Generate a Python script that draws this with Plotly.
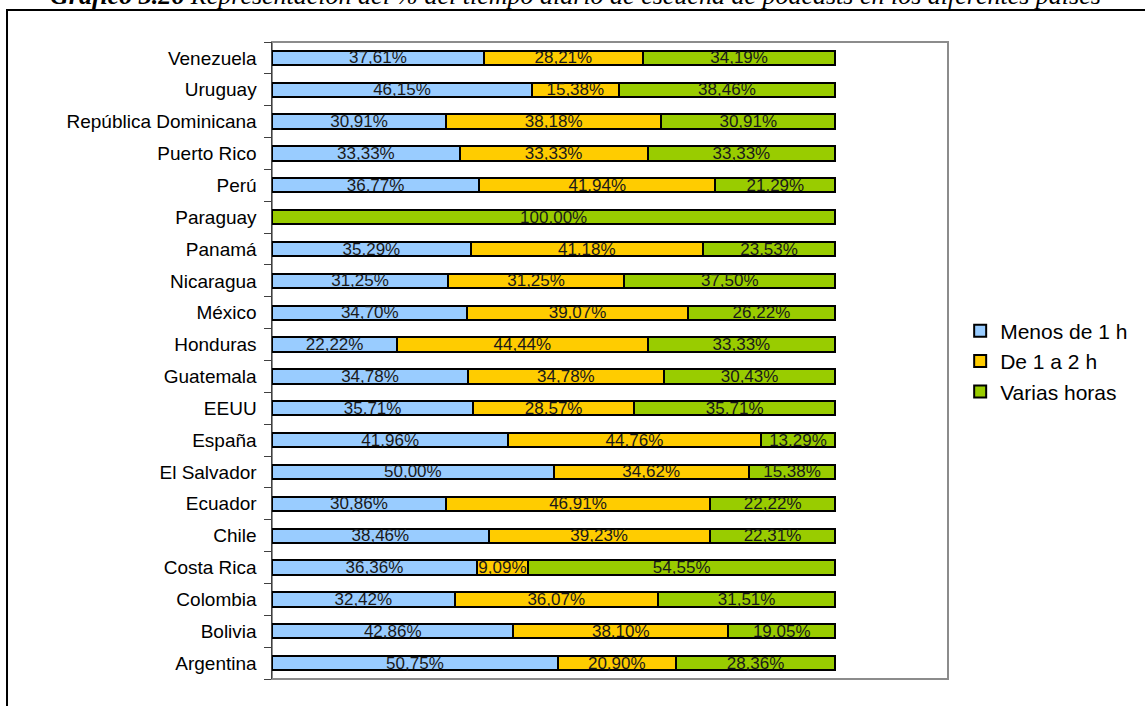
import plotly.graph_objects as go

# countries bottom -> top (as plotly draws categories)
paises = ["Argentina", "Bolivia", "Colombia", "Costa Rica", "Chile", "Ecuador",
          "El Salvador", "España", "EEUU", "Guatemala", "Honduras", "México",
          "Nicaragua", "Panamá", "Paraguay", "Perú", "Puerto Rico",
          "República Dominicana", "Uruguay", "Venezuela"]

menos_1h = [50.75, 42.86, 32.42, 36.36, 38.46, 30.86, 50.00, 41.96, 35.71, 34.78,
            22.22, 34.70, 31.25, 35.29, None, 36.77, 33.33, 30.91, 46.15, 37.61]
de_1_a_2h = [20.90, 38.10, 36.07, 9.09, 39.23, 46.91, 34.62, 44.76, 28.57, 34.78,
             44.44, 39.07, 31.25, 41.18, None, 41.94, 33.33, 38.18, 15.38, 28.21]
varias_horas = [28.36, 19.05, 31.51, 54.55, 22.31, 22.22, 15.38, 13.29, 35.71, 30.43,
                33.33, 26.22, 37.50, 23.53, 100.00, 21.29, 33.33, 30.91, 38.46, 34.19]

series = [("Menos de 1 h", menos_1h, "#99CCFF"),
          ("De 1 a 2 h", de_1_a_2h, "#FFCC00"),
          ("Varias horas", varias_horas, "#99CC00")]

titulo = ("<b><i>Gráfico 3.26</i></b> <i>Representación del % del tiempo diario de escucha "
          "de podcasts en los diferentes países</i>")


def etiqueta(v):
    if v is None:
        return None
    return f"{v:.2f}".replace(".", ",") + "%"


fig = go.Figure()
for nombre, valores, color in series:
    fig.add_trace(go.Bar(
        y=paises, x=valores, name=nombre, orientation="h",
        legendgroup=nombre,
        marker=dict(color=color, line=dict(color="black", width=2)),
        text=[etiqueta(v) for v in valores],
        textposition="inside", insidetextanchor="middle",
        constraintext="none", textangle=0,
        textfont=dict(family="Arial, Liberation Sans", size=17, color="#1a1a1a"),
        width=0.45,
    ))

fig.update_layout(
    width=1145, height=706,
    barmode="stack",
    margin=dict(l=272, r=197, t=42, b=27),
    paper_bgcolor="white", plot_bgcolor="white",
    font=dict(family="Arial, Liberation Sans", color="black"),
    showlegend=True,
    legend=dict(x=1.018, y=0.499, xanchor="left", yanchor="middle",
                font=dict(size=21), traceorder="normal", tracegroupgap=8,
                bgcolor="rgba(0,0,0,0)"),
)

fig.update_xaxes(range=[0, 120], showticklabels=False, showgrid=False,
                 zeroline=False, ticks="", fixedrange=True)
fig.update_yaxes(categoryorder="array", categoryarray=paises,
                 showline=True, linecolor="#404040", linewidth=1,
                 ticks="outside", ticklen=7, tickcolor="#404040",
                 tickson="boundaries", showgrid=False,
                 tickfont=dict(size=19, color="black"), ticksuffix="  ")

# plot-area border (grey) and outer frame (black)
fig.add_shape(type="rect", xref="paper", yref="paper", x0=0, x1=1, y0=0, y1=1,
              line=dict(color="#8c8c8c", width=2), layer="below")
fig.add_shape(type="rect", xref="paper", yref="paper",
              x0=-0.392, x1=1.6, y0=-0.3, y1=1.0502,
              line=dict(color="black", width=2))

# cut-off caption above the frame
fig.add_annotation(text=titulo, xref="paper", yref="paper",
                   x=-0.331, y=1.0471, xanchor="left", yanchor="bottom",
                   showarrow=False,
                   font=dict(family="Liberation Serif, Times New Roman", size=26,
                             color="black"))

# the page's default body margin would shift everything by 8px
fig.write_html("out.html", config={"displayModeBar": False},
               post_script="document.body.style.margin = '0';")
